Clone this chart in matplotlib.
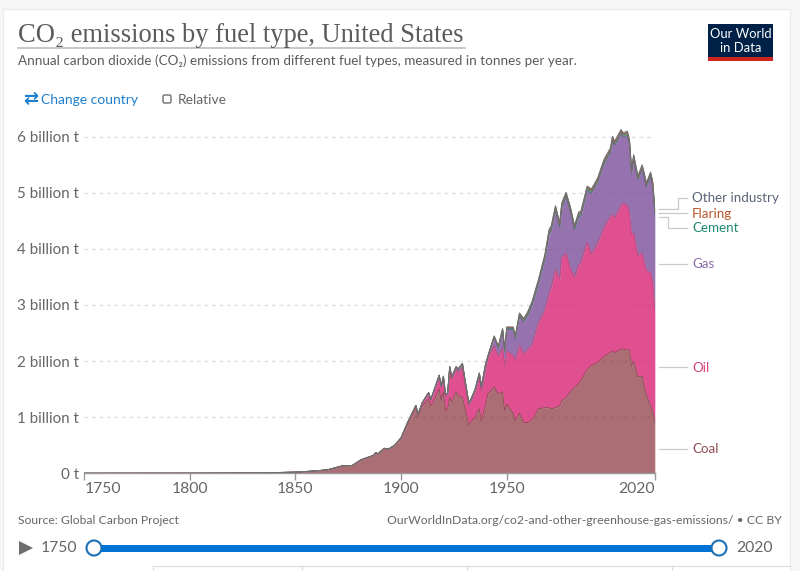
import numpy as np
import matplotlib
matplotlib.use("Agg")
import matplotlib.pyplot as plt
from matplotlib.patches import Rectangle, FancyBboxPatch, Polygon, Circle

plt.rcParams['font.family'] = ['Lato', 'Noto Sans', 'DejaVu Sans']

# values, billion tonnes, tops of the stacked layers
years = [1750, 1800, 1830, 1850, 1857, 1865, 1872, 1877, 1881, 1887, 1888, 1889, 1892, 1894, 1897,
         1900, 1903, 1907, 1908, 1910, 1913, 1914, 1915, 1918, 1919, 1920, 1921, 1922, 1923, 1924,
         1926, 1927, 1929, 1930, 1932, 1933, 1935, 1937, 1938, 1940, 1941, 1944, 1946, 1948, 1949,
         1950, 1953, 1954, 1956, 1958, 1960, 1962, 1965, 1968, 1970, 1971, 1973, 1975, 1976, 1978,
         1980, 1982, 1984, 1985, 1988, 1990, 1993, 1996, 1999, 2000, 2001, 2004, 2005, 2007, 2008,
         2009, 2010, 2012, 2014, 2015, 2016, 2018, 2019, 2020]
coal_top = [0.0, 0.001, 0.004, 0.02, 0.036, 0.06, 0.13, 0.14, 0.24, 0.32, 0.37, 0.345, 0.445, 0.43, 0.5,
            0.62, 0.87, 1.17, 1.0, 1.2, 1.32, 1.2, 1.25, 1.5, 1.3, 1.45, 1.12, 1.15, 1.35, 1.28,
            1.45, 1.38, 1.35, 1.2, 0.855, 0.92, 1.0, 1.15, 0.93, 1.22, 1.41, 1.54, 1.41, 1.45, 1.11,
            1.23, 1.07, 0.93, 1.07, 0.9, 0.91, 0.95, 1.15, 1.17, 1.17, 1.15, 1.17, 1.2, 1.3, 1.35,
            1.45, 1.53, 1.6, 1.65, 1.85, 1.92, 1.97, 2.08, 2.15, 2.18, 2.15, 2.21, 2.21, 2.2, 2.2,
            1.91, 2.0, 1.72, 1.73, 1.55, 1.4, 1.2, 1.1, 0.9]
oil_top = [0.0, 0.001, 0.004, 0.02, 0.036, 0.06, 0.13, 0.14, 0.24, 0.32, 0.37, 0.345, 0.445, 0.43, 0.5,
           0.635, 0.89, 1.2, 1.04, 1.25, 1.42, 1.3, 1.4, 1.72, 1.52, 1.7, 1.38, 1.4, 1.85, 1.68,
           1.85, 1.8, 1.88, 1.65, 1.21, 1.28, 1.45, 1.7, 1.47, 1.85, 2.06, 2.27, 2.08, 2.24, 1.91,
           2.18, 2.1, 2.02, 2.27, 2.13, 2.21, 2.3, 2.68, 2.92, 3.21, 3.3, 3.63, 3.46, 3.85, 3.92,
           3.65, 3.49, 3.72, 3.75, 4.12, 3.91, 4.1, 4.38, 4.58, 4.61, 4.55, 4.78, 4.82, 4.77, 4.65,
           4.26, 4.28, 3.88, 3.93, 3.75, 3.62, 3.57, 3.4, 2.92]
total_top = [0.0, 0.001, 0.004, 0.02, 0.036, 0.06, 0.13, 0.14, 0.24, 0.32, 0.37, 0.345, 0.445, 0.43, 0.5,
             0.635, 0.9, 1.21, 1.05, 1.26, 1.44, 1.32, 1.42, 1.75, 1.56, 1.73, 1.41, 1.43, 1.9, 1.72,
             1.9, 1.86, 1.96, 1.72, 1.26, 1.32, 1.5, 1.79, 1.56, 1.96, 2.09, 2.45, 2.27, 2.58, 2.21,
             2.61, 2.61, 2.45, 2.86, 2.76, 2.89, 3.07, 3.46, 3.9, 4.35, 4.41, 4.77, 4.47, 4.82, 5.01,
             4.76, 4.42, 4.66, 4.67, 5.12, 5.07, 5.27, 5.6, 5.8, 6.01, 5.92, 6.13, 6.07, 6.1, 5.95,
             5.42, 5.68, 5.3, 5.5, 5.35, 5.18, 5.37, 5.2, 4.7]
# the three thin layers on top, read at a few years
thin_years = [1750, 1900, 1930, 1950, 1970, 2000, 2020]
cement_thin = [0.0, 0.0, 0.01, 0.02, 0.04, 0.04, 0.04]
flaring_thin = [0.0, 0.0, 0.0, 0.015, 0.03, 0.01, 0.02]
other_thin = [0.0, 0.0, 0.0, 0.01, 0.02, 0.03, 0.02]

x_ticks = [1750, 1800, 1850, 1900, 1950, 2020]
y_ticks = [0, 1, 2, 3, 4, 5, 6]
y_labels = ["0 t", "1 billion t", "2 billion t", "3 billion t", "4 billion t", "5 billion t", "6 billion t"]

names = ["Coal", "Oil", "Gas", "Cement", "Flaring", "Other industry"]
fills = ["#883039", "#D92474", "#7C509B", "#1F8A70", "#B5501E", "#4A5368"]
edges = ["#8F525A", "#BE4A82", "#74608C", "#3C8A78", "#A8623C", "#6A6F7A"]

GREY = "#666666"
W, H = 800, 571


def fx(v):
    return v / W


def fy(v):
    return 1 - v / H


fig = plt.figure(figsize=(8, 5.71), dpi=100, facecolor="#f6f6f6")

# card and page furniture underneath
bg = fig.add_axes([0, 0, 1, 1], zorder=0)
bg.set_xlim(0, W)
bg.set_ylim(H, 0)
bg.axis("off")
bg.add_patch(Rectangle((3, 9), 787, H, fc="white", ec="#ececec", lw=0.8))

# chart
y_top = 128.0
x0, x1, y0 = 84.0, 654.8, 473.3
y_per_b = 56.1
ax = fig.add_axes([fx(x0), fy(y0), (x1 - x0) / W, (y0 - y_top) / H], zorder=1)
ax.set_xlim(1750, 2020)
ax.set_ylim(0, (y0 - y_top) / y_per_b)
ax.patch.set_alpha(0)

yr = np.array(years, dtype=float)
coal = np.array(coal_top)
oil = np.array(oil_top) - coal
cement = np.interp(yr, thin_years, cement_thin)
flaring = np.interp(yr, thin_years, flaring_thin)
other = np.interp(yr, thin_years, other_thin)
gas = np.clip(np.array(total_top) - np.array(oil_top) - cement - flaring - other, 0, None)
layers = [coal, oil, gas, cement, flaring, other]

ax.set_axisbelow(True)
ax.yaxis.grid(True, color="#dddddd", ls=(0, (3, 3)), lw=0.9)
ax.xaxis.grid(False)

base = np.zeros_like(yr)
for vals, fc, ec in zip(layers, fills, edges):
    top = base + vals
    ax.fill_between(yr, base, top, color=fc, alpha=0.7 if fc == "#883039" else 0.8, lw=0, zorder=2)
    ax.plot(yr, top, color=ec, lw=0.7, zorder=3)
    base = top

for s in ["top", "left", "right"]:
    ax.spines[s].set_visible(False)
ax.spines["bottom"].set_color("#999999")
ax.spines["bottom"].set_linewidth(1)

ax.set_xticks(x_ticks)
ax.set_xticklabels([])
ax.set_yticks(y_ticks)
ax.set_yticklabels([])
ax.tick_params(axis="x", length=5, color="#999999", width=1)
ax.tick_params(axis="y", length=0)

# text and overlays in pixel coordinates
ov = fig.add_axes([0, 0, 1, 1], zorder=2)
ov.set_xlim(0, W)
ov.set_ylim(H, 0)
ov.axis("off")

serif = ["Liberation Serif", "DejaVu Serif"]
ov.text(18, 36, "CO₂ emissions by fuel type, United States", fontsize=19.1, color="#5b5b5b",
        family=serif, va="center", ha="left")
ov.plot([18, 465], [47.5, 47.5], color="#bdbdbd", lw=1.2)
ov.text(18, 61, "Annual carbon dioxide (CO₂) emissions from different fuel types, measured in tonnes per year.",
        fontsize=9.7, color="#5b5b5b", va="center", ha="left")

# logo
ov.add_patch(Rectangle((707.5, 23.5), 65.5, 37.5, fc="#002147", ec="none"))
ov.add_patch(Rectangle((707.5, 57), 65.5, 4, fc="#ce261e", ec="none"))
ov.text(740.5, 34, "Our World", color="white", fontsize=9.4, ha="center", va="center")
ov.text(740.5, 47.5, "in Data", color="white", fontsize=9.4, ha="center", va="center")

# controls
blue = "#1d7fce"
ov.text(31, 98.5, "⇄", color=blue, fontsize=13, ha="center", va="center", family="DejaVu Sans", weight="bold")
ov.text(41, 99.5, "Change country", color=blue, fontsize=10, ha="left", va="center")
ov.add_patch(FancyBboxPatch((163, 95), 8, 8, boxstyle="round,pad=0,rounding_size=1.5",
                            fc="white", ec="#6e6e6e", lw=1))
ov.text(177.5, 99.5, "Relative", color=GREY, fontsize=10, ha="left", va="center")

# axis labels
for val, lab in zip(y_ticks, y_labels):
    ov.text(79, y0 - val * y_per_b + 1.5, lab, color=GREY, fontsize=10.9, ha="right", va="center")
for val in x_ticks:
    px = x0 + (val - 1750) * (x1 - x0) / 270
    ha = "left" if val == 1750 else ("right" if val == 2020 else "center")
    ov.text(px + (1 if val == 1750 else 0), 489, str(val), color=GREY, fontsize=11.3, ha=ha, va="center")

# series labels and leader lines
line_c = "#c8c8c8"
for lab, c, ly in [("Other industry", "#5A6478", 198.5), ("Flaring", "#B5562A", 213.5), ("Cement", "#1F8A70", 228.5),
                   ("Gas", "#8A6AA4", 264), ("Oil", "#D8407F", 367.5), ("Coal", "#8E4A50", 449)]:
    ov.text(692, ly, lab, color=c, fontsize=9.6, ha="left", va="center")
ov.plot([659, 678, 678, 687], [209, 209, 198, 198], color=line_c, lw=0.9)
ov.plot([659, 687], [212.8, 212.8], color=line_c, lw=0.9)
ov.plot([659, 668, 668, 687], [216.8, 216.8, 228, 228], color=line_c, lw=0.9)
for ly in [263.5, 367, 448.5]:
    ov.plot([659, 687], [ly, ly], color=line_c, lw=0.9)

# footer
ov.text(18, 520, "Source: Global Carbon Project", color=GREY, fontsize=8.7, ha="left", va="center")
ov.text(782, 520, "OurWorldInData.org/co2-and-other-greenhouse-gas-emissions/ • CC BY", color=GREY,
        fontsize=8.8, ha="right", va="center")

# time slider
ov.add_patch(Polygon([[19, 541], [19, 555], [33, 548]], closed=True, fc="#6e6e6e", ec="none"))
ov.text(41, 548.5, "1750", color=GREY, fontsize=11.3, ha="left", va="center")
ov.text(736, 548.5, "2020", color=GREY, fontsize=11.3, ha="left", va="center")
ov.add_patch(Rectangle((94, 544.5), 625, 7, fc="#0073d6", ec="none"))
for cx in [94, 719]:
    ov.add_patch(Circle((cx, 548), 7.5, fc="white", ec="#1a6fb5", lw=1.5, zorder=5))

# tabs along the bottom edge
ov.plot([153, 790], [566, 566], color="#dfdfdf", lw=0.9)
for tx in [153, 302, 467, 672]:
    ov.plot([tx, tx], [566, 571], color="#dfdfdf", lw=0.9)

fig.savefig("out.png", dpi=100, facecolor=fig.get_facecolor())
